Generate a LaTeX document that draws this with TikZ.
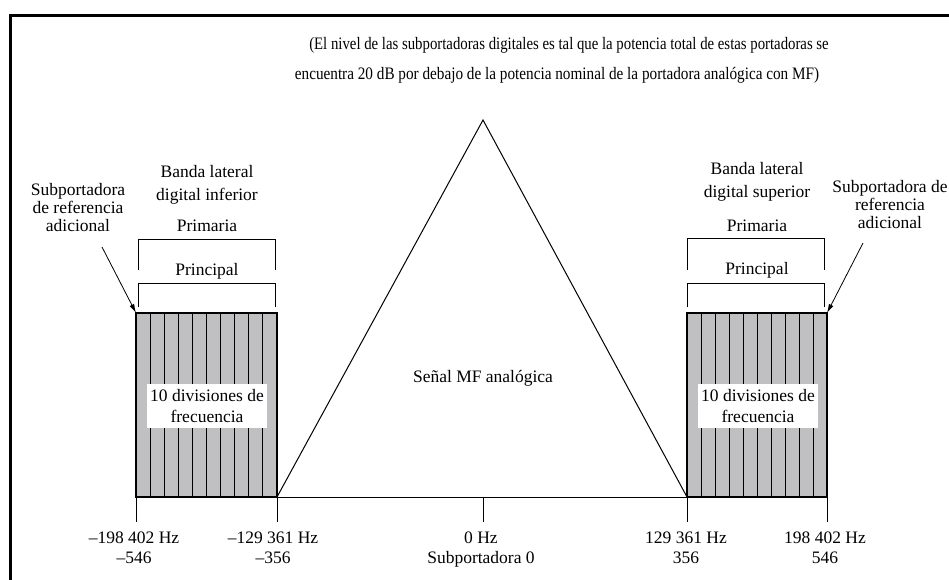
\documentclass[tikz,border=0pt]{standalone}
\usepackage{fontspec}
\usepackage{graphicx}
\setmainfont{Liberation Serif}
\usetikzlibrary{arrows.meta}
\definecolor{bandgray}{RGB}{192,192,194}
\tikzset{
  lbl/.style={inner sep=0pt, align=center, font=\fontsize{17.5}{23}\selectfont},
  notelbl/.style={inner sep=0pt, align=center, font=\fontsize{17.5}{20}\selectfont},
  freqlbl/.style={inner sep=0pt, align=center, anchor=north, font=\fontsize{17.5}{20}\selectfont},
  lbltight/.style={inner sep=0pt, align=center, font=\fontsize{17.5}{18}\selectfont},
  bandbox/.style={draw=black, line width=1.8pt, fill=bandgray},
  divline/.style={line width=0.9pt},
  bracket/.style={line width=0.8pt},
  tick/.style={line width=0.9pt},
  ptr/.style={line width=0.8pt, -{Latex[length=9pt,width=5pt]}},
  whitelbl/.style={fill=white, inner sep=0pt, minimum width=120pt, minimum height=44pt, align=center, font=\fontsize{17.5}{21}\selectfont}
}
\begin{document}
\begin{tikzpicture}[x=1pt,y=-1pt]
\useasboundingbox (0,0) rectangle (949,579);
% frame
\draw[line width=3pt] (10,585) -- (10,15) -- (955,15);

% top note
\node[notelbl] (note1) at (569,45) {\scalebox{0.845}[1]{(El nivel de las subportadoras digitales es tal que la potencia total de estas portadoras se}};
\node[notelbl] (note2) at (557,75) {\scalebox{0.87}[1]{encuentra 20 dB por debajo de la potencia nominal de la portadora analógica con MF)}};

% left band
\coordinate (LBtl) at (136,313);
\coordinate (LBbr) at (277,497);
\draw[bandbox] (LBtl) rectangle (LBbr);
\foreach \i in {1,...,9} {
  \draw[divline] ({136+\i*14.1},313) -- ({136+\i*14.1},497);
}
\draw[line width=1.8pt] (LBtl) rectangle (LBbr);
\node[whitelbl] (Ldiv) at (207,406) {10 divisiones de\\frecuencia};

% right band
\coordinate (RBtl) at (687,313);
\coordinate (RBbr) at (827,497);
\draw[bandbox] (RBtl) rectangle (RBbr);
\foreach \i in {1,...,9} {
  \draw[divline] ({687+\i*14.0},313) -- ({687+\i*14.0},497);
}
\draw[line width=1.8pt] (RBtl) rectangle (RBbr);
\node[whitelbl] (Rdiv) at (758,406) {10 divisiones de\\frecuencia};

% triangle (analog FM)
\coordinate (apex) at (483,120);
\coordinate (tL) at (277,497);
\coordinate (tR) at (687,497);
\draw[line width=1pt] (tL) -- (apex) -- (tR);
\node[lbl] (fm) at (483,378) {Señal MF analógica};

% baseline and ticks
\coordinate (b1) at (136,497);
\coordinate (b2) at (277,497);
\coordinate (b3) at (483,497);
\coordinate (b4) at (687,497);
\coordinate (b5) at (827,497);
\draw[tick] (b1) -- (b5);
\foreach \n in {b1,b2,b3,b4,b5} {
  \draw[tick] (\n) -- ++(0,25);
}

% bottom labels
\node[freqlbl] (f1) at (134,532) {–198 402 Hz\\–546};
\node[freqlbl] (f2) at (273,532) {–129 361 Hz\\–356};
\node[freqlbl] (f3) at (481,532) {0 Hz\\Subportadora 0};
\node[freqlbl] (f4) at (686,532) {129 361 Hz\\356};
\node[freqlbl] (f5) at (825,532) {198 402 Hz\\546};

% left brackets
\node[lbl] (Lband) at (207,185) {Banda lateral\\digital inferior};
\node[lbl] (Lprim) at (207,226) {Primaria};
\draw[bracket] (138,270) -- (138,239) -- (275,239) -- (275,270);
\node[lbl] (Lprin) at (207,271) {Principal};
\draw[bracket] (138,307) -- (138,283) -- (275,283) -- (275,307);

% right brackets
\node[lbl] (Rband) at (757,182) {Banda lateral\\digital superior};
\node[lbl] (Rprim) at (757,226) {Primaria};
\draw[bracket] (687,270) -- (687,238) -- (824,238) -- (824,270);
\node[lbl] (Rprin) at (757,270) {Principal};
\draw[bracket] (687,307) -- (687,283) -- (824,283) -- (824,307);

% reference subcarrier labels and arrows
\node[lbltight] (Lref) at (78,208) {Subportadora\\de referencia\\adicional};
\node[lbltight] (Rref) at (890,205) {Subportadora de\\referencia\\adicional};
\coordinate (LrefS) at (102,247);
\coordinate (RrefS) at (863,243);
\draw[ptr] (LrefS) -- (LBtl);
\draw[ptr] (RrefS) -- (RBbr |- RBtl);
\end{tikzpicture}
\end{document}
